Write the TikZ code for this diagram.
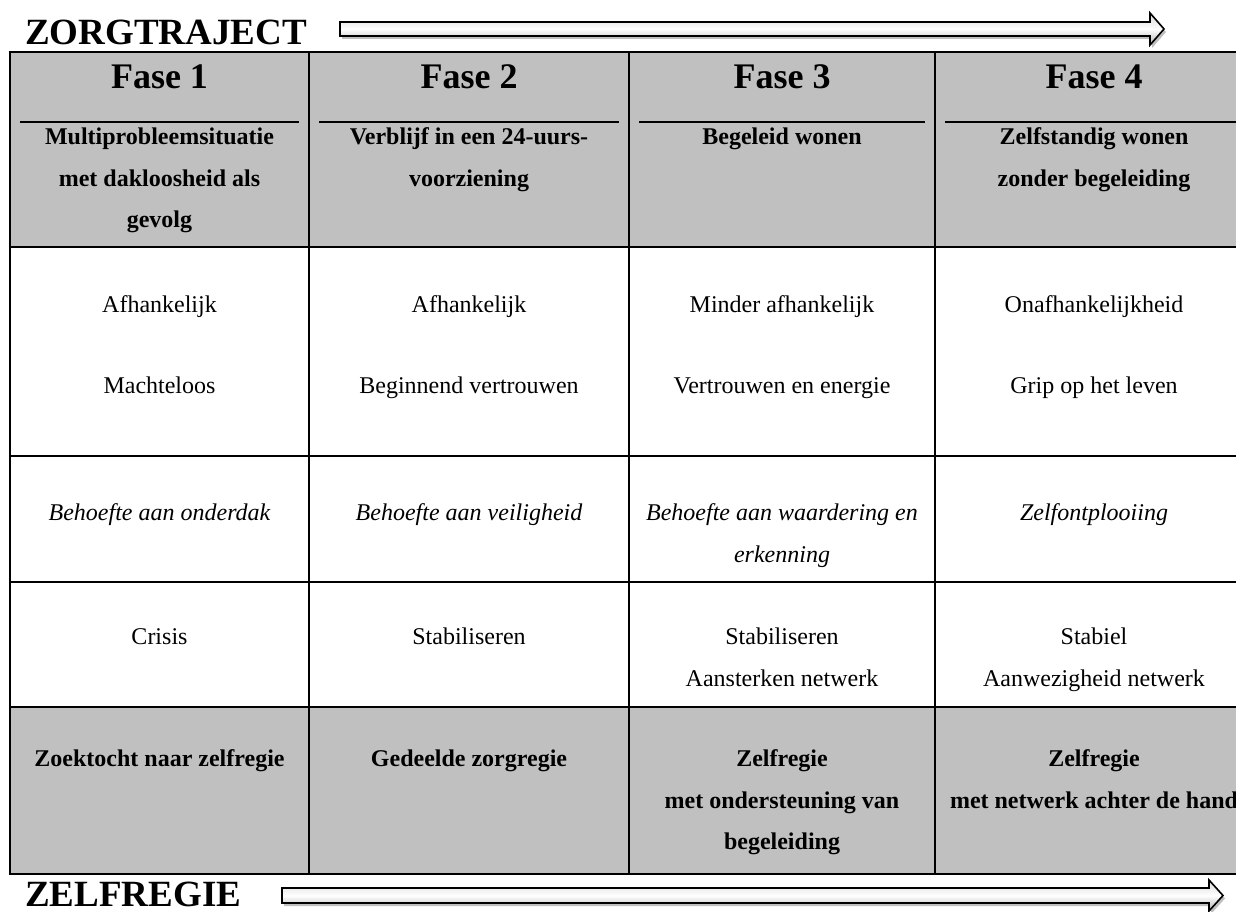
\documentclass[tikz,border=0pt]{standalone}
\usepackage{fontspec}
\setmainfont{Liberation Serif}
\definecolor{cellgray}{RGB}{192,192,192}
\newcommand\lnstrut{\rule[-6pt]{0pt}{22pt}}
\begin{document}
\begin{tikzpicture}[x=1pt,y=-1pt,
  body/.style={inner sep=0pt, align=center, font=\fontsize{24}{41.5}\selectfont,
    execute at begin node=\lnstrut, execute at end node=\lnstrut},
  bodyb/.style={body, font=\fontsize{24}{41.5}\selectfont\bfseries},
  bodyi/.style={body, font=\fontsize{24}{41.5}\selectfont\itshape},
  fase/.style={inner sep=0pt, font=\fontsize{36}{40}\selectfont\bfseries},
  title/.style={inner sep=0pt, anchor=base west, font=\fontsize{37}{40}\selectfont\bfseries},
  heavy/.style={line width=2.8pt},
  rule/.style={line width=1.8pt},
  seprule/.style={line width=1.4pt},
  bigarrow/.style={draw=black, line width=1.6pt, top color=gray!30, bottom color=gray!60, middle color=white, line join=miter},
  arrowshadow/.style={fill=black, opacity=0.25},
]
\useasboundingbox (0,0) rectangle (1236,912);
\fill[white] (0,0) rectangle (1236,912);

% titles
\node[title] (zt) at (25,45) {ZORGTRAJECT};
\node[title] (zr) at (25,906) {ZELFREGIE};

% top arrow
\fill[arrowshadow, shift={(2,3)}] (340,22) -- (1150,22) -- (1150,13) -- (1164,29) -- (1150,45) -- (1150,36) -- (340,36) -- cycle;
\path[bigarrow] (340,22) -- (1150,22) -- (1150,13) -- (1164,29) -- (1150,45) -- (1150,36) -- (340,36) -- cycle;
% bottom arrow
\fill[arrowshadow, shift={(2,3)}] (282,888) -- (1209,888) -- (1209,880) -- (1223,895.5) -- (1209,911) -- (1209,903) -- (282,903) -- cycle;
\path[bigarrow] (282,888) -- (1209,888) -- (1209,880) -- (1223,895.5) -- (1209,911) -- (1209,903) -- (282,903) -- cycle;

% gray rows
\fill[cellgray] (10,52) rectangle (1236,247);
\fill[cellgray] (10,707) rectangle (1236,874);

% horizontal rules
\draw[heavy] (8.6,52) -- (1240,52);
\draw[heavy] (8.6,247) -- (1240,247);
\draw[rule] (10,456) -- (1240,456);
\draw[rule] (10,582) -- (1240,582);
\draw[rule] (10,707) -- (1240,707);
\draw[heavy] (8.6,874) -- (1240,874);
% vertical rules
\foreach \x in {10,309,629,935} \draw[rule] (\x,52) -- (\x,874);
% separators under Fase
\draw[seprule] (20,122) -- (299,122);
\draw[seprule] (319,122) -- (619,122);
\draw[seprule] (639,122) -- (925,122);
\draw[seprule] (945,122) -- (1240,122);

% header
\node[fase] (f1) at (159.5,77) {Fase 1};
\node[fase] (f2) at (469,77) {Fase 2};
\node[fase] (f3) at (782,77) {Fase 3};
\node[fase] (f4) at (1094,77) {Fase 4};
\node[bodyb] (h1) at (159.5,181) {Multiprobleemsituatie\\met dakloosheid als\\gevolg};
\node[bodyb] (h2) at (469,160) {Verblijf in een 24-uurs-\\voorziening};
\node[bodyb] (h3) at (782,139) {Begeleid wonen};
\node[bodyb] (h4) at (1094,160) {Zelfstandig wonen\\zonder begeleiding};

% row 2
\node[body] (a1) at (159.5,347.5) {Afhankelijk\\[39pt]Machteloos};
\node[body] (a2) at (469,347.5) {Afhankelijk\\[39pt]Beginnend vertrouwen};
\node[body] (a3) at (782,347.5) {Minder afhankelijk\\[39pt]Vertrouwen en energie};
\node[body] (a4) at (1094,347.5) {Onafhankelijkheid\\[39pt]Grip op het leven};

% row 3
\node[bodyi] (b1) at (159.5,515) {Behoefte aan onderdak};
\node[bodyi] (b2) at (469,515) {Behoefte aan veiligheid};
\node[bodyi] (b3) at (782,536) {Behoefte aan waardering en\\erkenning};
\node[bodyi] (b4) at (1094,515) {Zelfontplooiing};

% row 4
\node[body] (c1) at (159.5,639) {Crisis};
\node[body] (c2) at (469,639) {Stabiliseren};
\node[body] (c3) at (782,660) {Stabiliseren\\Aansterken netwerk};
\node[body] (c4) at (1094,660) {Stabiel\\Aanwezigheid netwerk};

% row 5
\node[bodyb] (d1) at (159.5,761) {Zoektocht naar zelfregie};
\node[bodyb] (d2) at (469,761) {Gedeelde zorgregie};
\node[bodyb] (d3) at (782,803) {Zelfregie\\met ondersteuning van\\begeleiding};
\node[bodyb] (d4) at (1094,782) {Zelfregie\\met netwerk achter de hand};
\end{tikzpicture}
\end{document}
